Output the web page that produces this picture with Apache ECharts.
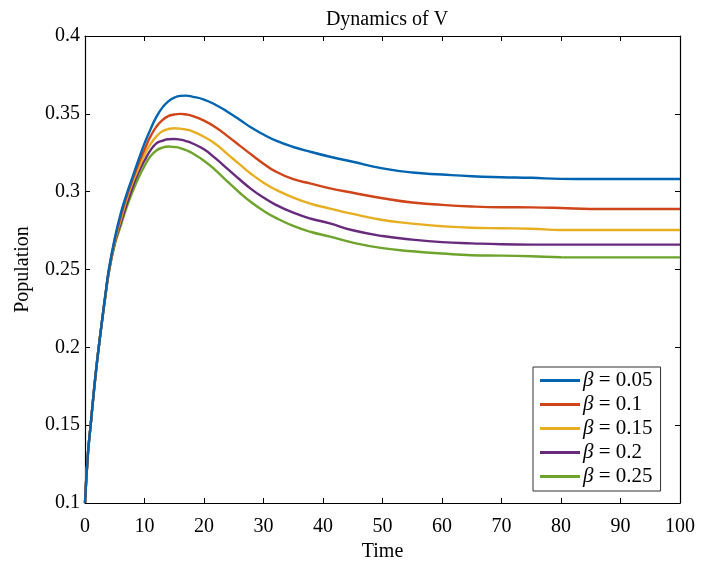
<!DOCTYPE html>
<html>
<head>
<meta charset="utf-8">
<title>Dynamics of V</title>
<script src="https://cdn.jsdelivr.net/npm/echarts@6/dist/echarts.min.js"></script>
<style>
  html, body { margin: 0; padding: 0; background: #fff; }
  #chart { width: 702px; height: 565px; }
</style>
</head>
<body>
<div id="chart"></div>
<script>
// Time samples shared by every curve
const time = [0, 0.5, 1, 1.5, 2, 2.5, 3, 3.5, 4, 5, 6, 7, 8, 9, 10, 11, 12, 13, 14, 15, 16, 17, 18,
  20, 22, 24, 26, 28, 30, 32, 35, 38, 41, 45, 50, 55, 60, 65, 70, 75, 80, 85, 90, 95, 100];

// Population of V for each transmission rate beta
const vBeta005 = [0.100, 0.132, 0.152, 0.172, 0.190, 0.206, 0.221, 0.236, 0.250, 0.270, 0.286, 0.2985, 0.3095, 0.3205, 0.331, 0.340, 0.348, 0.354, 0.358, 0.3604, 0.3615, 0.3617, 0.3611,
  0.3592, 0.3557, 0.3512, 0.3462, 0.341, 0.3367, 0.3329, 0.3287, 0.3255, 0.3226, 0.3192, 0.315, 0.3123, 0.311, 0.3099, 0.3093, 0.3089, 0.3082, 0.3081, 0.3081, 0.3081, 0.3081];
const vBeta010 = [0.100, 0.132, 0.152, 0.172, 0.190, 0.206, 0.221, 0.236, 0.249, 0.269, 0.284, 0.297, 0.308, 0.318, 0.327, 0.3355, 0.3418, 0.346, 0.3485, 0.3496, 0.350, 0.3496, 0.3487,
  0.3456, 0.3412, 0.3355, 0.3296, 0.3237, 0.318, 0.3130, 0.308, 0.3052, 0.3023, 0.2993, 0.2958, 0.293, 0.2915, 0.2905, 0.290, 0.2899, 0.2895, 0.2889, 0.2889, 0.2889, 0.2889];
const vBeta015 = [0.100, 0.132, 0.152, 0.172, 0.190, 0.206, 0.221, 0.235, 0.249, 0.268, 0.282, 0.295, 0.306, 0.315, 0.3235, 0.3305, 0.3355, 0.3388, 0.3402, 0.3407, 0.3405, 0.3399, 0.3389,
  0.3353, 0.3305, 0.3240, 0.3175, 0.3112, 0.3058, 0.3014, 0.2962, 0.2922, 0.2893, 0.2857, 0.2818, 0.2795, 0.2778, 0.2768, 0.2765, 0.2762, 0.2754, 0.2754, 0.2754, 0.2754, 0.2754];
const vBeta020 = [0.100, 0.132, 0.152, 0.172, 0.190, 0.206, 0.221, 0.235, 0.248, 0.267, 0.280, 0.292, 0.303, 0.3125, 0.320, 0.3265, 0.331, 0.3327, 0.3337, 0.3338, 0.3334, 0.3325, 0.3311,
  0.3272, 0.3212, 0.3145, 0.3078, 0.3015, 0.2962, 0.2917, 0.2865, 0.2826, 0.2798, 0.2752, 0.2715, 0.2692, 0.2676, 0.2668, 0.2662, 0.266, 0.266, 0.266, 0.266, 0.266, 0.266];
const vBeta025 = [0.100, 0.132, 0.152, 0.172, 0.190, 0.206, 0.221, 0.235, 0.248, 0.266, 0.278, 0.290, 0.300, 0.309, 0.3165, 0.3228, 0.3265, 0.3283, 0.329, 0.3287, 0.3280, 0.3266, 0.3248,
  0.3199, 0.3135, 0.3063, 0.2993, 0.2930, 0.2877, 0.2833, 0.278, 0.2741, 0.2713, 0.2673, 0.2637, 0.2617, 0.2603, 0.2592, 0.2589, 0.2585, 0.2579, 0.2578, 0.2578, 0.2578, 0.2578];

const seriesNames = ['β = 0.05', 'β = 0.1', 'β = 0.15', 'β = 0.2', 'β = 0.25'];
const seriesValues = [vBeta005, vBeta010, vBeta015, vBeta020, vBeta025];
const seriesColors = ['#0064b0', '#cf4418', '#e8ae22', '#682a7c', '#6ea42c'];

const FONT = '"Liberation Serif", "Times New Roman", serif';
const FS = 20;

const chart = echarts.init(document.getElementById('chart'), null, { renderer: 'canvas' });

const tickStyle = { show: true, inside: true, length: 5, lineStyle: { color: '#000', width: 1 } };
const lineStyle = { show: true, onZero: false, lineStyle: { color: '#000', width: 1.2 } };

chart.setOption({
  animation: false,
  backgroundColor: '#fff',
  title: {
    text: 'Dynamics of V',
    left: 382, top: 5, textAlign: 'center',
    textStyle: { fontFamily: FONT, fontSize: FS, fontWeight: 'normal', color: '#000' }
  },
  grid: { left: 85, right: 22, top: 36, bottom: 62, outerBoundsMode: 'none', containLabel: false },
  legend: {
    orient: 'vertical',
    left: 533, top: 367,
    padding: [3, 8, 4, 7],
    itemGap: 3,
    itemWidth: 40, itemHeight: 3,
    icon: 'rect',
    borderColor: '#333', borderWidth: 1,
    backgroundColor: '#fff',
    data: seriesNames,
    formatter: function (name) {
      return '{b|β}' + name.slice(1);
    },
    textStyle: {
      fontFamily: FONT, fontSize: 21, color: '#000', lineHeight: 20, padding: [0, 0, 0, -2],
      rich: { b: { fontFamily: FONT, fontSize: 21, fontStyle: 'italic', color: '#000', lineHeight: 20 } }
    }
  },
  xAxis: [{
    type: 'value', min: 0, max: 100, interval: 10, position: 'bottom',
    name: 'Time', nameLocation: 'middle', nameGap: 36,
    nameTextStyle: { fontFamily: FONT, fontSize: FS, color: '#000' },
    axisLine: lineStyle, axisTick: tickStyle,
    axisLabel: { fontFamily: FONT, fontSize: FS, color: '#000', margin: 14 },
    splitLine: { show: false }
  }, {
    type: 'value', min: 0, max: 100, interval: 10, position: 'top',
    axisLine: lineStyle, axisTick: tickStyle, axisLabel: { show: false }, splitLine: { show: false }
  }],
  yAxis: [{
    type: 'value', min: 0.1, max: 0.4, interval: 0.05, position: 'left',
    name: 'Population', nameLocation: 'middle', nameGap: 52,
    nameTextStyle: { fontFamily: FONT, fontSize: FS, color: '#000' },
    axisLine: lineStyle, axisTick: tickStyle,
    axisLabel: {
      fontFamily: FONT, fontSize: FS, color: '#000', margin: 5,
      formatter: function (v) { return String(parseFloat(v.toFixed(2))); }
    },
    splitLine: { show: false }
  }, {
    type: 'value', min: 0.1, max: 0.4, interval: 0.05, position: 'right',
    axisLine: lineStyle, axisTick: tickStyle, axisLabel: { show: false }, splitLine: { show: false }
  }],
  series: seriesNames.map(function (name, i) {
    return {
      name: name,
      type: 'line',
      xAxisIndex: 0, yAxisIndex: 0,
      smooth: 0.5,
      showSymbol: false,
      data: time.map(function (t, k) { return [t, seriesValues[i][k]]; }),
      lineStyle: { color: seriesColors[i], width: 2.4 },
      itemStyle: { color: seriesColors[i] },
      z: 10 - i
    };
  })
});
</script>
</body>
</html>
